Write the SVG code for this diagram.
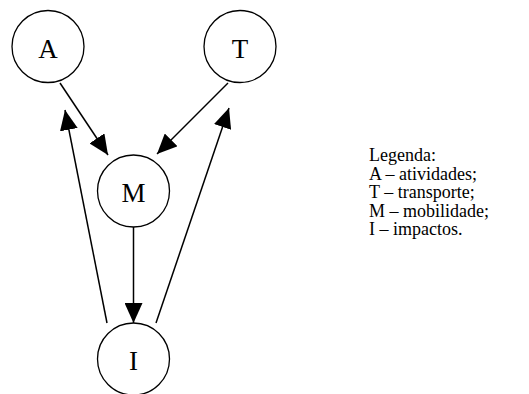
<svg xmlns="http://www.w3.org/2000/svg" width="529" height="394" viewBox="0 0 529 394">
<style>
.n{fill:#fff;stroke:#000;stroke-width:1.3}
.lbl{font-family:"Liberation Serif","Times New Roman",serif;font-size:27px;text-anchor:middle;fill:#000}
.leg{font-family:"Liberation Serif","Times New Roman",serif;font-size:18px;fill:#000}
.e{stroke:#000;stroke-width:1.5;fill:none;marker-end:url(#ah)}
</style>
<defs>
<marker id="ah" viewBox="0 0 20 18" refX="20" refY="9" markerWidth="20" markerHeight="18" markerUnits="userSpaceOnUse" orient="auto">
<path d="M0,0 L20,9 L0,18 z" fill="#000"/>
</marker>
</defs>
<rect width="529" height="394" fill="#fff"/>
<g id="connectors">
<path class="e" d="M60,83 L108,155"/>
<path class="e" d="M228,83 L157,154"/>
<path class="e" d="M133.5,227 L133.5,323"/>
<path class="e" d="M107,323 L65,110"/>
<path class="e" d="M156,323 L229,108"/>
</g>
<g id="node-A"><circle class="n" cx="48" cy="46.5" r="36"/><text class="lbl" x="48" y="57.5">A</text></g>
<g id="node-T"><circle class="n" cx="240" cy="46.5" r="36"/><text class="lbl" x="240" y="57.5">T</text></g>
<g id="node-M"><circle class="n" cx="133.5" cy="191" r="36"/><text class="lbl" x="133.5" y="202">M</text></g>
<g id="node-I"><circle class="n" cx="133.5" cy="359" r="36"/><text class="lbl" x="133.5" y="370">I</text></g>
<g id="legend">
<text class="leg" x="369" y="161">Legenda:</text>
<text class="leg" x="369" y="179.5">A – atividades;</text>
<text class="leg" x="369" y="198">T – transporte;</text>
<text class="leg" x="369" y="216.5">M – mobilidade;</text>
<text class="leg" x="369" y="235">I – impactos.</text>
</g>
</svg>
